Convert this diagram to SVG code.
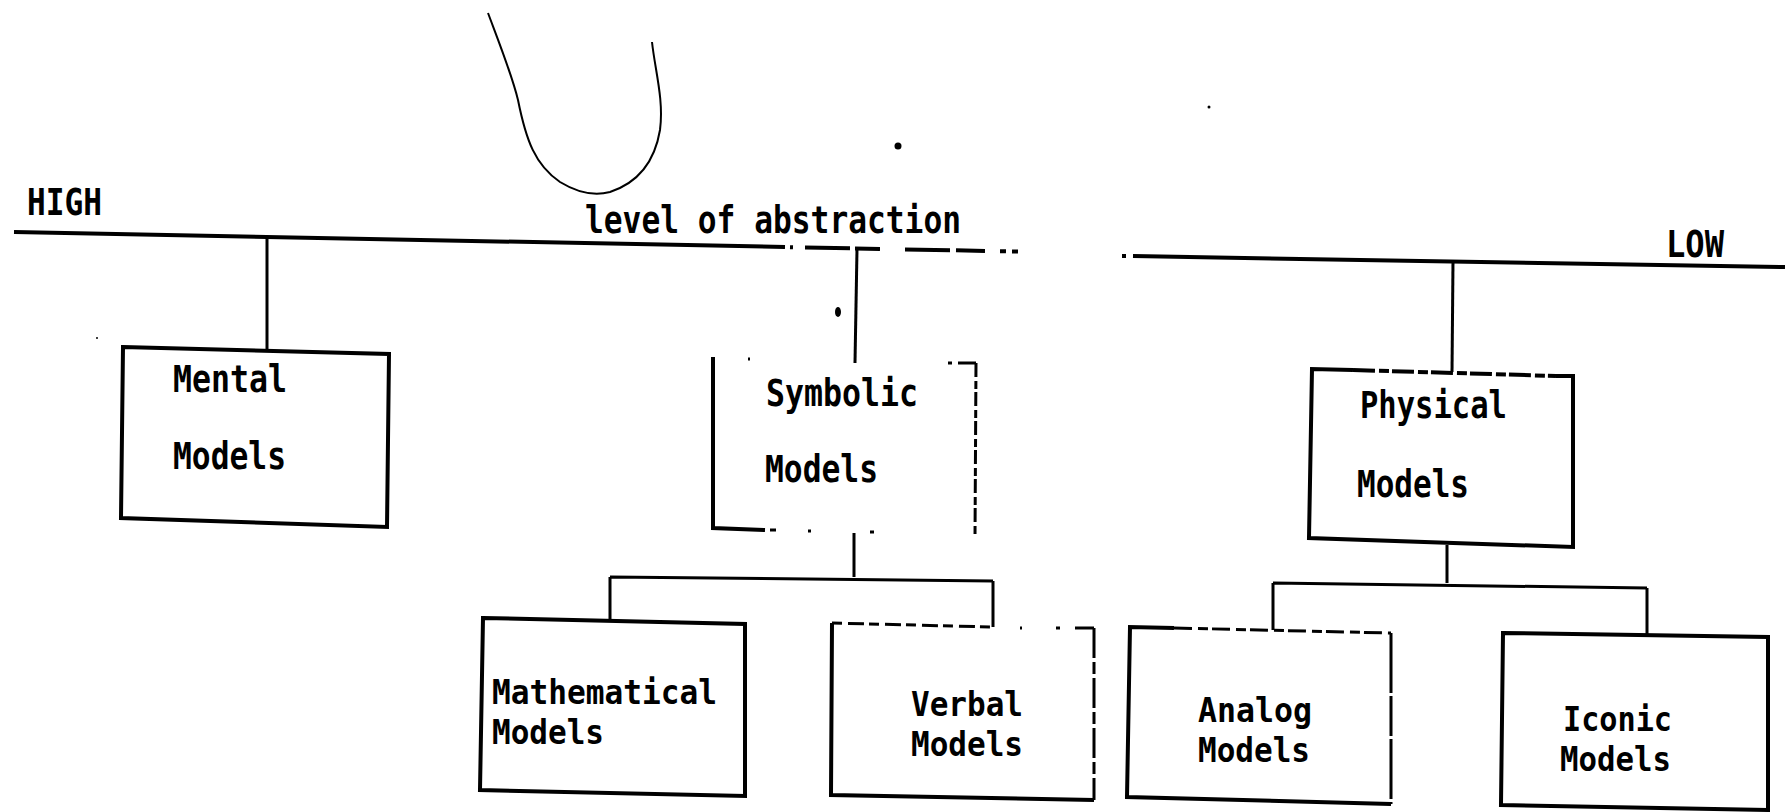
<svg xmlns="http://www.w3.org/2000/svg" width="1785" height="812" viewBox="0 0 1785 812">
<style>
.t{font-family:"DejaVu Sans Mono","Liberation Mono",monospace;font-weight:bold;font-size:37px;fill:#000}
.s{font-size:34px}
.box{fill:none;stroke:#000;stroke-width:4;stroke-linejoin:miter}
.ln{fill:none;stroke:#000;stroke-width:3}
.main{fill:none;stroke:#000;stroke-width:4}
</style>
<rect width="1785" height="812" fill="#fff"/>
<g id="scribble">
<path d="M488,13 C500,45 512,75 518,100 C526,140 535,165 560,182 C578,193 595,196 610,192 C640,182 655,160 660,130 C664,100 655,70 652,42" fill="none" stroke="#000" stroke-width="2"/>
<circle cx="898" cy="146" r="3.5"/>
<circle cx="1209" cy="107" r="1.5"/>
<ellipse cx="838" cy="312" rx="3" ry="5"/>
<circle cx="97" cy="338" r="1"/>
</g>
<g id="axis">
<path class="main" d="M14,232 L785,247"/>
<path class="main" d="M790,247.2 L793,247.3 M805,247.5 L850,248.3 M855,248.4 L880,248.9 M905,249.4 L950,250.2 M956,250.3 L985,250.9 M1000,251.2 L1006,251.3 M1012,251.4 L1018,251.5"/>
<path class="main" d="M1122,256 L1126,256 M1133,256.1 L1785,267"/>
<text class="t" x="27" y="215" textLength="75" lengthAdjust="spacingAndGlyphs">HIGH</text>
<text class="t" x="585" y="233" textLength="376" lengthAdjust="spacingAndGlyphs">level of abstraction</text>
<text class="t" x="1666" y="257" textLength="58" lengthAdjust="spacingAndGlyphs">LOW</text>
</g>
<g id="connectors">
<path class="ln" d="M267,237 L267,350"/>
<path class="ln" d="M857,249 L855,363"/>
<path class="ln" d="M1453,261 L1452,372"/>
<path class="ln" d="M854,533 L854,577 M610,577 L993,581 M610,577 L610,619 M993,581 L993,627"/>
<path class="ln" d="M1447,545 L1447,583 M1273,583 L1647,588 M1273,583 L1273,630 M1647,588 L1647,635"/>
</g>
<g id="mental">
<path class="box" d="M123,347 L389,354 L387,527 L121,518 Z"/>
<text class="t" x="173" y="392" textLength="114" lengthAdjust="spacingAndGlyphs">Mental</text>
<text class="t" x="173" y="469" textLength="113" lengthAdjust="spacingAndGlyphs">Models</text>
</g>
<g id="symbolic">
<path class="box" d="M713,357 L713,528 L765,530"/>
<path class="ln" d="M770,530 L776,530 M808,531 L811,531 M870,532 L874,532" stroke-width="2.5"/>
<path class="ln" d="M976,363 L975,537" stroke-dasharray="14 4 8 3"/>
<path class="ln" d="M948,363 L952,363 M958,363 L976,363 M748,359 L750,359" stroke-width="2.5"/>
<text class="t" x="766" y="406" textLength="152" lengthAdjust="spacingAndGlyphs">Symbolic</text>
<text class="t" x="765" y="482" textLength="113" lengthAdjust="spacingAndGlyphs">Models</text>
</g>
<g id="physical">
<path class="box" d="M1353,370 L1312,369 L1309,538 L1573,547 L1573,376 L1556,376"/>
<path class="box" d="M1353,370 L1556,376" stroke-dasharray="22 4 10 3"/>
<text class="t" x="1360" y="418" textLength="147" lengthAdjust="spacingAndGlyphs">Physical</text>
<text class="t" x="1357" y="497" textLength="112" lengthAdjust="spacingAndGlyphs">Models</text>
</g>
<g id="mathematical">
<path class="box" d="M483,618 L745,624 L745,796 L480,790 Z"/>
<text class="t s" x="492" y="704" textLength="225" lengthAdjust="spacingAndGlyphs">Mathematical</text>
<text class="t s" x="492" y="744" textLength="112" lengthAdjust="spacingAndGlyphs">Models</text>
</g>
<g id="verbal">
<path class="box" d="M832,623 L831,795 L1094,800"/>
<path class="ln" d="M832,623 L993,627" stroke-dasharray="10 6 16 5"/>
<path class="ln" d="M1020,628 L1022,628 M1056,628 L1060,628 M1075,628 L1094,628" stroke-width="3"/>
<path class="ln" d="M1094,628 L1094,800" stroke-dasharray="30 4 12 4"/>
<text class="t s" x="911" y="716" textLength="112" lengthAdjust="spacingAndGlyphs">Verbal</text>
<text class="t s" x="911" y="756" textLength="112" lengthAdjust="spacingAndGlyphs">Models</text>
</g>
<g id="analog">
<path class="box" d="M1174,628 L1130,627 L1127,797 L1391,804"/>
<path class="ln" d="M1174,628 L1391,633" stroke-dasharray="18 6 10 4" stroke-width="3.5"/>
<path class="ln" d="M1391,633 L1391,804" stroke-width="2.5" stroke-dasharray="60 3 40 3"/>
<text class="t s" x="1198" y="722" textLength="114" lengthAdjust="spacingAndGlyphs">Analog</text>
<text class="t s" x="1198" y="762" textLength="112" lengthAdjust="spacingAndGlyphs">Models</text>
</g>
<g id="iconic">
<path class="box" d="M1503,633 L1768,637 L1768,810 L1501,805 Z"/>
<text class="t s" x="1563" y="731" textLength="109" lengthAdjust="spacingAndGlyphs">Iconic</text>
<text class="t s" x="1560" y="771" textLength="111" lengthAdjust="spacingAndGlyphs">Models</text>
</g>
</svg>
